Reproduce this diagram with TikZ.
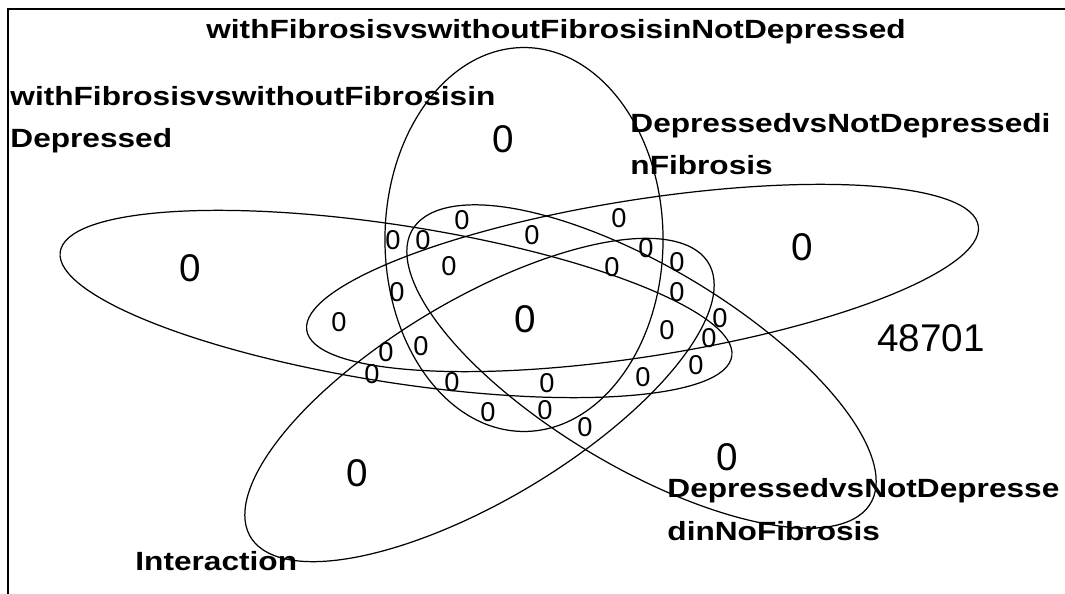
\documentclass[tikz,border=0pt]{standalone}
\usepackage{fontspec}
\setmainfont{Liberation Sans}
\usetikzlibrary{positioning}
\tikzset{
  setline/.style={draw=black, line width=0.7pt},
  setlabel/.style={font=\fontsize{15}{24.4}\selectfont\bfseries, xscale=1.2,
                   inner sep=0pt, align=left, anchor=base west},
  bignum/.style={font=\fontsize{22}{26}\selectfont, inner sep=0pt},
  smallnum/.style={font=\fontsize{15.5}{18}\selectfont, inner sep=0pt},
}
\begin{document}
\begin{tikzpicture}[x=0.02cm, y=-0.02cm]
\useasboundingbox (0,0) rectangle (1065,594);

% frame
\draw[line width=1pt] (8,594) -- (8,9) -- (1065,9);

% five sets
\foreach \cx/\cy/\ang in {524/239.5/90, 396/304/162, 479.5/400/234, 641.5/366.5/306, 642.5/278/18}
  \draw[setline, shift={(\cx,\cy)}, xscale=1.825, rotate=\ang] (0,0) ellipse (3.84cm and 1.524cm);

% set names (base = last line)
\node[setlabel, anchor=base] (nameA) at (556,39) {withFibrosisvswithoutFibrosisinNotDepressed};
\node[setlabel] (nameB) at (10,148) {withFibrosisvswithoutFibrosisin\\Depressed};
\node[setlabel] (nameD) at (630,175) {DepressedvsNotDepressedi\\nFibrosis};
\node[setlabel] (nameF) at (667,540) {DepressedvsNotDepresse\\dinNoFibrosis};
\node[setlabel] (nameE) at (135,570) {Interaction};

% counts
\node[bignum] (onlyA) at (503,139) {0};
\node[bignum] (onlyB) at (190,268) {0};
\node[bignum] (onlyD) at (802,247) {0};
\node[bignum] (onlyE) at (357,473) {0};
\node[bignum] (onlyF) at (727,457) {0};
\node[bignum] (all) at (525,319) {0};
\node[bignum] (none) at (931,338) {48701};

\foreach \x/\y [count=\i] in {462/220, 393/240, 423/240, 449/266, 397/292, 339/322,
    386/352, 421/346, 372/374, 452/382, 488/412, 619/218, 532/235, 646/248,
    677/262, 612/267, 677/292, 720/318, 667/330, 709/338, 696/365, 643/377,
    547/383, 545/410, 585/427}
  \node[smallnum] (part\i) at (\x,\y) {0};

\end{tikzpicture}
\end{document}
